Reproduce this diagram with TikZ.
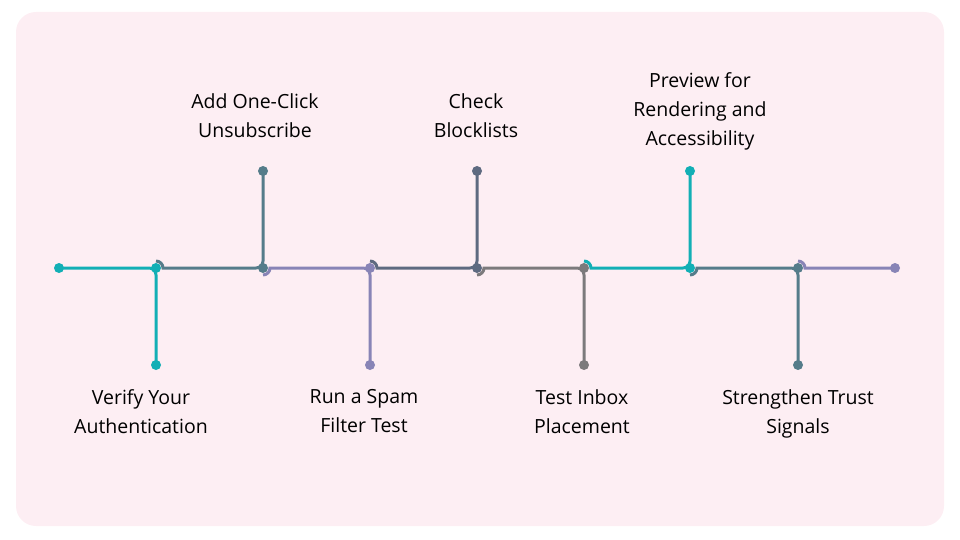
\documentclass[tikz,border=0pt]{standalone}
\usepackage{fontspec}
\setmainfont{Open Sans}
\usetikzlibrary{positioning}
\definecolor{bgpink}{HTML}{FDEEF3}
\definecolor{cteal}{HTML}{12AFB5}
\definecolor{cslate}{HTML}{557C8A}
\definecolor{cpurple}{HTML}{8884B6}
\definecolor{cdark}{HTML}{5E6A80}
\definecolor{cgray}{HTML}{7C7A7C}
\tikzset{dot/.style={circle, fill=#1, inner sep=0pt, minimum size=10pt},
  lab/.style={align=center, inner sep=0pt, font=\fontsize{19.5}{29}\selectfont}}
\newcommand{\stepup}[3]{% color, from x, to x
  \draw[#1, line width=3pt] (#2,261) arc (-90:0:7) -- (#3-7,268) [rounded corners=7pt] -- (#3,268) -- (#3,171);}
\newcommand{\stepdown}[3]{%
  \draw[#1, line width=3pt] (#2,275) arc (90:0:7) -- (#3-7,268) [rounded corners=7pt] -- (#3,268) -- (#3,365);}
\begin{document}
\begin{tikzpicture}[x=1pt, y=-1pt]
\useasboundingbox (0,0) rectangle (960,540);
\fill[bgpink, rounded corners=20pt] (16,12) rectangle (944,526);
% connectors
\draw[cteal, line width=3pt] (59,268) -- (149,268) [rounded corners=7pt] -- (156,268) -- (156,365);
\stepup{cslate}{156}{263}
\stepdown{cpurple}{263}{370}
\stepup{cdark}{370}{477}
\stepdown{cgray}{477}{584}
\stepup{cteal}{584}{690}
\stepdown{cslate}{690}{798}
\draw[cpurple, line width=3pt] (798,261) arc (-90:0:7) -- (895,268);
% dots
\node[dot=cteal] (s) at (59,268) {};
\node[dot=cteal] (a) at (156,268) {};
\node[dot=cteal] (a1) at (156,365) {};
\node[dot=cslate] (b) at (263,268) {};
\node[dot=cslate] (b1) at (263,171) {};
\node[dot=cpurple] (c) at (370,268) {};
\node[dot=cpurple] (c1) at (370,365) {};
\node[dot=cdark] (d) at (477,268) {};
\node[dot=cdark] (d1) at (477,171) {};
\node[dot=cgray] (e) at (584,268) {};
\node[dot=cgray] (e1) at (584,365) {};
\node[dot=cteal] (f) at (690,268) {};
\node[dot=cteal] (f1) at (690,171) {};
\node[dot=cslate] (g) at (798,268) {};
\node[dot=cslate] (g1) at (798,365) {};
\node[dot=cpurple] (t) at (895,268) {};
% labels
\node[lab, anchor=north] at (141,389) {Verify Your\\Authentication};
\node[lab, anchor=south] at (255,138) {Add One-Click\\Unsubscribe};
\node[lab, anchor=north] at (364,389) {Run a Spam\\Filter Test};
\node[lab, anchor=south] at (476,138) {Check\\Blocklists};
\node[lab, anchor=north] at (582,389) {Test Inbox\\Placement};
\node[lab, anchor=south] at (700,150) {Preview for\\Rendering and\\Accessibility};
\node[lab, anchor=north] at (798,389) {Strengthen Trust\\Signals};
\end{tikzpicture}
\end{document}
